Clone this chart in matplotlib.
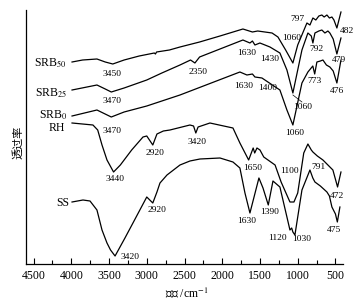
import matplotlib
matplotlib.use("Agg")
import matplotlib.pyplot as plt
from matplotlib.ticker import MultipleLocator

plt.rcParams["font.family"] = ["Liberation Serif", "Noto Sans CJK SC"]
plt.rcParams["mathtext.fontset"] = "stix"

# ---- data (wavenumber, transmittance in arbitrary units) ----
srb50_wn = [3990, 3850, 3660, 3550, 3450, 3300, 3100, 2900, 2885, 2870, 2700, 2560, 2300, 2030,
            1726, 1600, 1530, 1340, 1262, 1160, 1064, 1000, 878, 838, 799, 760, 720, 680, 650,
            613, 580, 547, 520, 481, 427]
srb50_t = [202, 204, 205, 202, 200, 204, 208, 211, 210, 212, 214, 217, 222, 228,
           235, 232, 233, 231, 227, 214, 201, 219, 241, 239, 246, 244, 248, 249, 247,
           249, 246, 247, 244, 236, 252]

srb25_wn = [3990, 3660, 3550, 3470, 3300, 3000, 2800, 2560, 2420, 2362, 2300, 2030, 1726, 1633,
            1600, 1567, 1501, 1434, 1368, 1236, 1143, 1064, 1000, 944, 865, 820, 799, 772, 720,
            680, 640, 600, 574, 530, 481, 427]
srb25_t = [174, 179, 175, 172, 176, 184, 191, 199, 204, 201, 207, 215, 224, 221,
           223, 219, 221, 219, 217, 211, 194, 171, 194, 214, 231, 228, 221, 231, 233,
           234, 231, 233, 231, 225, 210, 226]

srb0_wn = [3990, 3660, 3470, 3300, 3000, 2800, 2560, 1766, 1673, 1600, 1567, 1474, 1395, 1236,
           1143, 1064, 944, 865, 800, 775, 746, 700, 666, 620, 574, 530, 481, 427]
srb0_t = [148, 154, 147, 152, 158, 163, 169, 192, 189, 190, 187, 186, 182, 174,
          154, 139, 181, 192, 198, 190, 202, 203, 204, 199, 197, 193, 181, 204]

rh_wn = [3990, 3713, 3650, 3593, 3527, 3440, 3350, 3200, 3050, 3000, 2920, 2865, 2780, 2693,
         2428, 2380, 2350, 2320, 2163, 1858, 1766, 1650, 1590, 1570, 1540, 1500, 1450, 1300,
         1220, 1103, 1050, 1000, 920, 865, 820, 799, 740, 666, 600, 534, 472, 427]
rh_t = [141, 139, 134, 119, 104, 92, 99, 114, 127, 128, 119, 130, 133, 134,
        139, 138, 131, 137, 141, 136, 121, 104, 116, 111, 116, 114, 107, 99,
        82, 62, 62, 71, 111, 120, 114, 112, 108, 104, 99, 94, 77, 92]

ss_wn = [3990, 3845, 3752, 3660, 3593, 3527, 3480, 3420, 3289, 3183, 3000, 2920, 2865, 2825,
         2732, 2560, 2428, 2295, 2030, 1858, 1766, 1699, 1633, 1514, 1460, 1390, 1328, 1236,
         1143, 1103, 1080, 1064, 1037, 944, 838, 800, 772, 700, 613, 580, 547, 500, 475, 441]
ss_t = [62, 64, 63, 54, 34, 21, 14, 8, 26, 41, 67, 61, 72, 81,
        89, 99, 103, 105, 106, 102, 96, 71, 51, 86, 76, 59, 83, 77,
        47, 34, 36, 32, 29, 74, 94, 86, 82, 78, 72, 68, 57, 50, 42, 57]

series = [
    ("SRB$_{50}$", srb50_wn, srb50_t),
    ("SRB$_{25}$", srb25_wn, srb25_t),
    ("SRB$_{0}$", srb0_wn, srb0_t),
    ("RH", rh_wn, rh_t),
    ("SS", ss_wn, ss_t),
]

xticks = [4500, 4000, 3500, 3000, 2500, 2000, 1500, 1000, 500]

# peak labels (text, pixel x, pixel y)
peak_labels = [
    ("3450", 112, 74), ("3470", 112, 101), ("3470", 112, 131), ("3440", 115, 179),
    ("2920", 155, 153), ("3420", 197, 142), ("2350", 198, 72), ("2920", 157, 210),
    ("3420", 130, 257), ("1630", 247, 53), ("1430", 270, 59), ("1060", 292, 38),
    ("797", 298, 19), ("482", 347, 31), ("792", 317, 49), ("479", 339, 60),
    ("1630", 244, 86), ("1400", 268, 88), ("773", 315, 81), ("476", 337, 91),
    ("1060", 303, 107), ("1060", 295, 133), ("1650", 253, 168), ("1100", 290, 171),
    ("791", 319, 167), ("472", 337, 196), ("1630", 247, 221), ("1390", 270, 212),
    ("1120", 278, 238), ("1030", 302, 239), ("475", 334, 230),
]
name_pos = [(67, 63), (67, 93), (67, 115), (65, 128), (69, 203)]

W, H = 359, 300
fig = plt.figure(figsize=(W / 100, H / 100), dpi=100)
ax = fig.add_axes([26 / W, 36 / H, 317 / W, 254 / H])
ax.set_xlim(4600, 400)
ax.set_ylim(0, 254)


def P(px, py):
    return 4600 - (px - 26) * 500 / 37.75, 264 - py


for (name, wn, t), (nx, ny) in zip(series, name_pos):
    ax.plot(wn, t, color="black", lw=0.9)
    x, y = P(nx, ny)
    ax.text(x, y, name, ha="right", va="center", fontsize=8.5)

for txt, px, py in peak_labels:
    x, y = P(px, py)
    ax.text(x, y, txt, ha="center", va="center", fontsize=6.8)

# leader line for SRB25 1060
x0, y0 = P(293, 95)
x1, y1 = P(302, 102)
ax.plot([x0, x1], [y0, y1], color="black", lw=0.5)

for s in ["top", "right"]:
    ax.spines[s].set_visible(False)
ax.spines["left"].set_linewidth(0.9)
ax.spines["bottom"].set_linewidth(0.9)
ax.set_yticks([])
ax.set_xticks(xticks)
ax.set_xticklabels([str(v) for v in xticks])
ax.xaxis.set_minor_locator(MultipleLocator(250))
ax.tick_params(axis="x", which="major", direction="in", length=4, width=0.8, labelsize=8.5, pad=4)
ax.tick_params(axis="x", which="minor", direction="in", length=3, width=0.8)

fig.text(18 / W, 1 - 142 / H, "透过率", rotation=90, ha="center", va="center",
         fontsize=8, family=["Noto Sans CJK SC"])
fig.text(187 / W, 1 - 293 / H, "波数 /cm$^{-1}$", ha="center", va="center", fontsize=8.5)

fig.savefig("out.png", dpi=100)
